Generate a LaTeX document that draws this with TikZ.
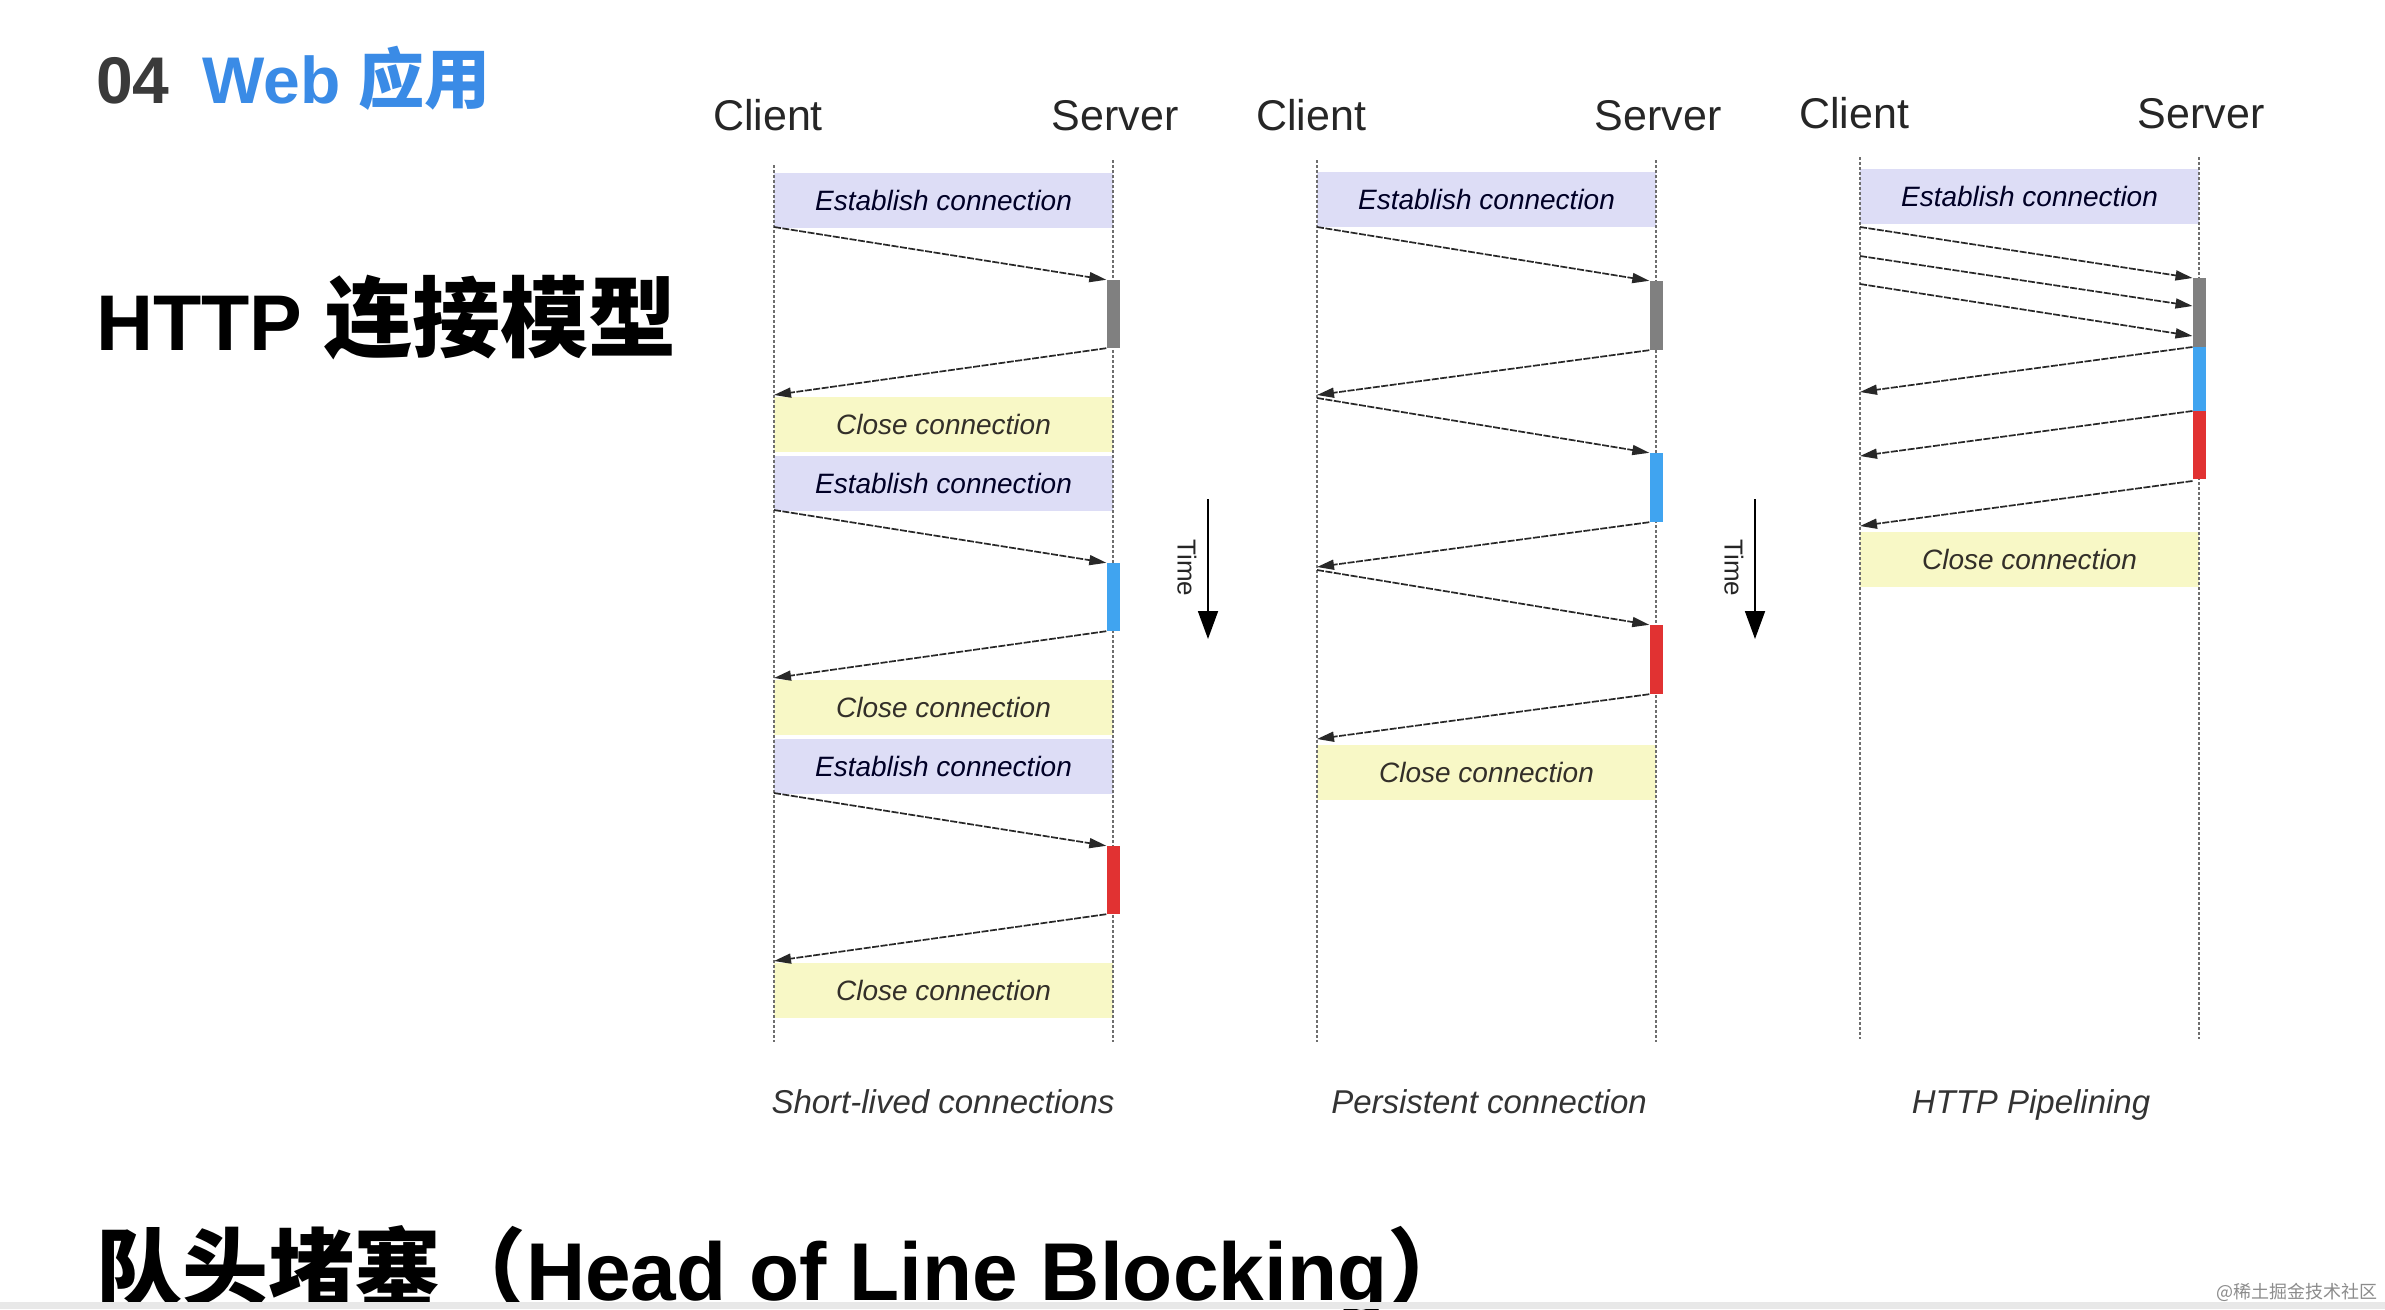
\documentclass[tikz,border=0pt]{standalone}
\usepackage{fontspec}
\setmainfont{Liberation Sans}
\newfontfamily\cjk{Noto Sans CJK SC}
\usetikzlibrary{arrows.meta}
\definecolor{estfill}{RGB}{221,221,246}
\definecolor{closefill}{RGB}{248,248,198}
\definecolor{barblue}{RGB}{64,164,240}
\definecolor{barred}{RGB}{225,50,50}
\definecolor{bargray}{RGB}{128,128,128}
\definecolor{titleblue}{RGB}{58,139,230}
\definecolor{numgray}{RGB}{58,58,58}
\definecolor{linegray}{RGB}{110,110,110}
\definecolor{arrowgray}{RGB}{40,40,40}
\tikzset{
  lifeline/.style={draw=linegray, line width=1.4pt, dash pattern=on 2.5pt off 2.5pt},
  msg/.style={draw=arrowgray, line width=1.7pt, dash pattern=on 7pt off 1.5pt, -{Triangle[length=17pt,width=10pt]}},
  boxlabel/.style={font=\fontsize{28}{30}\selectfont\itshape},
  estbox/.style={fill=estfill, draw=none, minimum width=339pt, minimum height=55pt, inner sep=0pt, boxlabel, text=black!85!blue},
  closebox/.style={fill=closefill, draw=none, minimum width=339pt, minimum height=55pt, inner sep=0pt, boxlabel, text=black!85!olive},
  party/.style={font=\fontsize{43}{45}\selectfont, text=black!85, anchor=base, inner sep=0pt},
  caption/.style={font=\fontsize{33}{35}\selectfont\itshape, text=black!80, anchor=base, inner sep=0pt},
  bar/.style={draw=none, minimum width=13pt, inner sep=0pt},
  timearrow/.style={draw=black, line width=1.8pt, -{Triangle[length=28pt,width=20pt]}},
  timelabel/.style={font=\fontsize{26}{28}\selectfont, rotate=-90, text=black!85, inner sep=0pt},
}
\begin{document}
\begin{tikzpicture}[x=1pt,y=-1pt]
\useasboundingbox (0,0) rectangle (2385,1309);
\clip (0,0) rectangle (2385,1309);
\fill[white] (0,0) rectangle (2385,1309);

% ---------- headings ----------
\node[anchor=base west, inner sep=0pt, font=\fontsize{66}{70}\selectfont\bfseries, text=numgray] (num) at (96,103) {04};
\node[anchor=base west, inner sep=0pt, font=\fontsize{66}{70}\selectfont\bfseries, text=titleblue] (sec) at (202,103) {Web {\cjk 应用}};
\node[anchor=base west, inner sep=0pt, font=\fontsize{79}{80}\selectfont\bfseries, text=black] (title) at (96,350) {HTTP {\cjk\fontsize{88}{90}\selectfont 连接模型}};
\node[anchor=base west, inner sep=0pt, font=\bfseries, text=black] (hol) at (96,1300) {{\cjk\fontsize{86}{88}\selectfont 队头堵塞（}{\fontsize{82}{84}\selectfont Head of Line Blocking}{\cjk\fontsize{86}{88}\selectfont ）}};

% ---------- diagram 1: short-lived ----------
\node[party] (d1client) at (768,130) {Client};
\node[party] (d1server) at (1115,130) {Server};
\foreach \k/\col in {0/bargray,1/barblue,2/barred}{
  \pgfmathsetmacro\T{173+283*\k}
  \node[estbox] (d1e\k) at (943.5,\T+27.5) {Establish connection};
  \node[closebox] (d1c\k) at (943.5,\T+251.5) {Close connection};
}
\coordinate (d1ct) at (774,165); \coordinate (d1cb) at (774,1042);
\coordinate (d1st) at (1113,160); \coordinate (d1sb) at (1113,1042);
\draw[lifeline] (d1ct) -- (d1cb);
\draw[lifeline] (d1st) -- (d1sb);
\foreach \k/\col in {0/bargray,1/barblue,2/barred}{
  \pgfmathsetmacro\T{173+283*\k}
  \node[bar, fill=\col, minimum height=68pt] (d1b\k) at (1113,\T+141) {};
  \coordinate (d1s\k) at (774,\T+54);
  \coordinate (d1r\k) at (774,\T+222);
  \draw[msg] (d1s\k) -- (d1b\k.north west);
  \draw[msg] (d1b\k.south west) -- (d1r\k);
}
\node[caption] (cap1) at (943,1113) {Short-lived connections};

% time arrow 1
\coordinate (t1a) at (1208,499); \coordinate (t1b) at (1208,639);
\draw[timearrow] (t1a) -- (t1b);
\node[timelabel] (t1l) at (1187,568) {Time};

% ---------- diagram 2: persistent ----------
\node[party] (d2client) at (1311,130) {Client};
\node[party] (d2server) at (1658,130) {Server};
\node[estbox] (d2e) at (1486.5,199.5) {Establish connection};
\node[closebox] (d2c) at (1486.5,772) {Close connection};
\coordinate (d2ct) at (1317,160); \coordinate (d2cb) at (1317,1042);
\coordinate (d2st) at (1656,160); \coordinate (d2sb) at (1656,1042);
\draw[lifeline] (d2ct) -- (d2cb);
\draw[lifeline] (d2st) -- (d2sb);
\coordinate (d2s0) at (1317,227);
\coordinate (d2s1) at (1317,398);
\coordinate (d2s2) at (1317,570);
\foreach \k/\col in {0/bargray,1/barblue,2/barred}{
  \pgfmathsetmacro\B{281+172*\k}
  \node[bar, fill=\col, minimum height=69pt] (d2b\k) at (1656,\B+34.5) {};
  \coordinate (d2r\k) at (1317,\B+114);
  \draw[msg] (d2s\k) -- (d2b\k.north west);
  \draw[msg] (d2b\k.south west) -- (d2r\k);
}
\node[caption] (cap2) at (1489,1113) {Persistent connection};

% time arrow 2
\coordinate (t2a) at (1755,499); \coordinate (t2b) at (1755,639);
\draw[timearrow] (t2a) -- (t2b);
\node[timelabel] (t2l) at (1734,568) {Time};

% ---------- diagram 3: pipelining ----------
\node[party] (d3client) at (1854,128) {Client};
\node[party] (d3server) at (2201,128) {Server};
\node[estbox] (d3e) at (2029.5,196.5) {Establish connection};
\node[closebox] (d3c) at (2029.5,559) {Close connection};
\coordinate (d3ct) at (1860,157); \coordinate (d3cb) at (1860,1039);
\coordinate (d3st) at (2199,157); \coordinate (d3sb) at (2199,1039);
\draw[lifeline] (d3ct) -- (d3cb);
\draw[lifeline] (d3st) -- (d3sb);
\node[bar, fill=bargray, minimum height=69pt] (d3b0) at (2199,312.5) {};
\node[bar, fill=barblue, minimum height=64pt] (d3b1) at (2199,379) {};
\node[bar, fill=barred, minimum height=68pt] (d3b2) at (2199,445) {};
\coordinate (d3s0) at (1860,227); \coordinate (d3q0) at (2192.5,278);
\coordinate (d3s1) at (1860,256); \coordinate (d3q1) at (2192.5,306);
\coordinate (d3s2) at (1860,284); \coordinate (d3q2) at (2192.5,336);
\foreach \k in {0,1,2}{ \draw[msg] (d3s\k) -- (d3q\k); }
\coordinate (d3p0) at (2192.5,347); \coordinate (d3r0) at (1860,392);
\coordinate (d3p1) at (2192.5,411); \coordinate (d3r1) at (1860,456);
\coordinate (d3p2) at (2192.5,481); \coordinate (d3r2) at (1860,526);
\foreach \k in {0,1,2}{ \draw[msg] (d3p\k) -- (d3r\k); }
\node[caption] (cap3) at (2031,1113) {HTTP Pipelining};

% ---------- watermark and bottom edge ----------
\fill[black!9] (0,1302) rectangle (2385,1309);
\node[anchor=base east, inner sep=0pt, font=\cjk\fontsize{18}{20}\selectfont, text=black!45] (wm) at (2378,1298) {@稀土掘金技术社区};
\end{tikzpicture}
\end{document}
